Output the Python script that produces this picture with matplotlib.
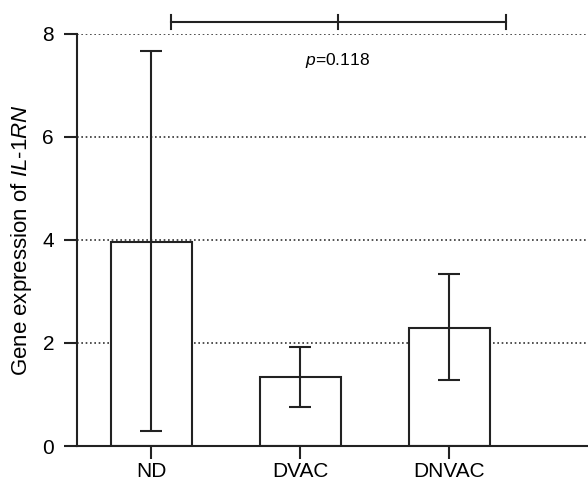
import matplotlib

matplotlib.use("Agg")
import matplotlib.pyplot as plt

plt.rcParams["font.family"] = ["Liberation Sans", "DejaVu Sans"]
plt.rcParams["mathtext.fontset"] = "custom"
plt.rcParams["mathtext.rm"] = "Liberation Sans"
plt.rcParams["mathtext.it"] = "Liberation Sans:italic"

groups = ["ND", "DVAC", "DNVAC"]
means = [3.97, 1.34, 2.29]
err_low = [0.30, 0.76, 1.28]
err_high = [7.67, 1.92, 3.33]
yticks = [0, 2, 4, 6, 8]
p_text = "0.118"
bracket_x = [0.13, 1.255, 2.38]
bracket_y = 8.23

fig = plt.figure(figsize=(5.88, 4.84), dpi=100)
ax = fig.add_axes([0.131, 0.0785, 0.869, 0.8513])

x = list(range(len(groups)))
lw = 1.5
ink = "#222222"
for yv in yticks[1:]:
    ax.axhline(yv, color="0.2", linestyle=(0, (1, 1.6)), linewidth=1.2, zorder=0)

ax.bar(x, means, width=0.545, color="white", edgecolor=ink, linewidth=lw, zorder=2)
yerr = [[m - lo for m, lo in zip(means, err_low)],
        [hi - m for m, hi in zip(means, err_high)]]
ax.errorbar(x, means, yerr=yerr, fmt="none", ecolor=ink, elinewidth=lw,
            capsize=8, capthick=lw, zorder=3)

# significance bracket
ax.plot([bracket_x[0], bracket_x[-1]], [bracket_y, bracket_y], color=ink,
        linewidth=lw, clip_on=False)
for bx in bracket_x:
    ax.plot([bx, bx], [bracket_y - 0.14, bracket_y + 0.14], color=ink,
            linewidth=lw, clip_on=False)
ax.text(1.25, 7.48, r"$\mathit{p}$=" + p_text, ha="center", va="center", fontsize=12.5)

ax.set_xlim(-0.497, 2.93)
ax.set_ylim(0, 8)
ax.set_yticks(yticks)
ax.set_xticks(x)
ax.set_xticklabels(groups, fontsize=15)
ax.tick_params(axis="y", labelsize=15, length=9.5, width=lw, color=ink, pad=7)
ax.tick_params(axis="x", length=9, width=lw, color=ink, pad=2.5)
ax.set_ylabel(r"Gene expression of $\mathit{IL}$-$\mathit{1RN}$", fontsize=16, labelpad=6)
for s in ("top", "right"):
    ax.spines[s].set_visible(False)
for s in ("left", "bottom"):
    ax.spines[s].set_linewidth(lw)
    ax.spines[s].set_color(ink)

fig.savefig("out.png", dpi=100)
